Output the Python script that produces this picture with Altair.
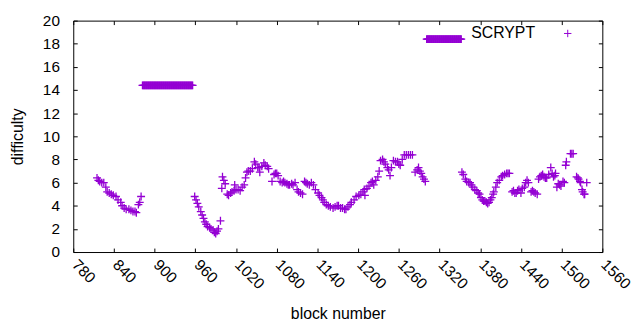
import altair as alt
import pandas as pd

# ---- data ----
series_name = "SCRYPT"

blocks = [
    815, 817, 819, 822, 825, 828, 830, 833, 836, 839, 843, 846, 850, 852, 855, 858,
    862, 865, 868, 871, 873, 876, 878, 880,
    959, 961, 963, 965, 968, 970, 972, 974, 976, 978, 981, 983, 986, 988, 990, 992,
    994, 997, 999, 1000, 1002, 1004, 1007, 1009, 1012, 1014, 1017, 1018, 1020, 1023,
    1026, 1029, 1032, 1034, 1036, 1038, 1041, 1044, 1047, 1049, 1052, 1054, 1055, 1058,
    1061, 1063, 1066, 1068, 1073, 1076, 1078, 1080, 1082, 1085, 1088, 1090, 1092, 1095,
    1097, 1099, 1102, 1104, 1107, 1110, 1112, 1115, 1118, 1121, 1123, 1125, 1128, 1131,
    1134, 1137, 1141, 1143, 1146, 1148, 1150, 1153, 1156, 1159, 1163, 1166, 1169, 1171,
    1174, 1177, 1180, 1182, 1185, 1188, 1190, 1194, 1197, 1201, 1204, 1207, 1209, 1210,
    1213, 1216, 1219, 1221, 1223, 1226, 1229, 1231, 1233, 1236, 1238, 1240, 1243, 1245,
    1247, 1249, 1252, 1255, 1258, 1260, 1262, 1265, 1268, 1271, 1274, 1277, 1280, 1284,
    1287, 1289, 1291, 1293, 1295, 1297, 1299,
    1353, 1355, 1358, 1360, 1363, 1365, 1367, 1369, 1372, 1375, 1377, 1379, 1381, 1383,
    1385, 1387, 1389, 1391, 1393, 1395, 1397, 1399, 1400, 1403, 1405, 1408, 1411, 1413,
    1416, 1419, 1421, 1423,
    1427, 1429, 1431, 1433, 1435, 1437, 1440, 1442, 1445, 1447, 1449, 1451, 1455, 1457,
    1459, 1461, 1464, 1466, 1468, 1470, 1472, 1474, 1476, 1478, 1481, 1484, 1486, 1488,
    1490, 1491, 1493, 1495, 1497, 1499, 1502, 1504, 1506, 1507, 1513, 1515, 1517, 1522,
    1524, 1525, 1527, 1528, 1530, 1531, 1533, 1534, 1537,
]
values = [
    6.4, 6.2, 6.1, 6.0, 6.0, 5.6, 5.2, 5.1, 5.0, 4.9, 4.8, 4.5, 4.3, 4.0, 3.8, 3.7,
    3.7, 3.6, 3.5, 3.5, 3.4, 4.1, 4.3, 4.8,
    4.8, 4.5, 4.2, 3.9, 3.5, 3.2, 2.9, 2.6, 2.4, 2.2, 2.1, 2.0, 1.9, 1.7, 1.6, 1.8,
    2.0, 2.7, 5.5, 6.5, 6.2, 5.9, 5.0, 4.9, 5.1, 5.2, 5.3, 5.8, 5.4, 5.4,
    5.3, 5.6, 5.8, 6.4, 6.9, 7.0, 7.0, 7.2, 7.8, 7.6, 7.3, 7.3, 6.9, 7.4,
    7.7, 7.5, 7.4, 7.2, 6.1, 6.7, 6.8, 6.8, 6.6, 6.1, 6.0, 6.1, 6.0, 5.9,
    5.8, 5.8, 5.9, 5.8, 6.0, 5.4, 5.2, 5.1, 5.0, 6.1, 6.0, 5.9, 5.8, 6.0,
    5.8, 5.4, 5.1, 4.9, 4.7, 4.5, 4.3, 4.1, 4.0, 3.9, 3.8, 3.9, 4.0, 4.0,
    3.8, 3.8, 3.7, 3.7, 3.9, 4.1, 4.3, 4.5, 4.8, 4.9, 5.0, 5.2, 5.4, 4.9,
    5.5, 5.7, 6.0, 6.1, 5.8, 6.2, 6.5, 7.0, 7.9, 8.0, 7.8, 7.6, 7.3, 7.1,
    6.6, 7.3, 7.9, 7.8, 7.8, 7.6, 7.5, 8.0, 8.4, 8.4, 8.4, 8.4, 8.4, 6.9,
    7.1, 7.3, 7.0, 6.8, 6.5, 6.3, 6.1,
    6.9, 6.7, 6.3, 6.1, 6.0, 6.0, 5.8, 5.6, 5.4, 5.3, 5.1, 5.0, 4.7, 4.5,
    4.4, 4.4, 4.3, 4.2, 4.3, 4.5, 4.7, 5.0, 5.2, 5.6, 6.0, 6.2, 6.5, 6.6,
    6.7, 6.8, 6.8, 6.8,
    5.2, 5.3, 5.1, 5.1, 5.3, 5.4, 5.1, 5.5, 5.6, 6.0, 6.2, 6.0, 5.2, 5.3,
    5.2, 5.1, 5.0, 6.3, 6.5, 6.6, 6.7, 6.5, 6.4, 6.4, 6.7, 7.3, 6.8, 6.5,
    6.6, 6.8, 5.6, 5.9, 5.8, 5.7, 6.1, 6.0, 7.5, 7.8, 8.5, 8.5, 8.5, 6.5,
    6.4, 6.3, 6.1, 6.0, 5.4, 5.2, 5.0, 5.0, 6.0,
]

# two runs of blocks that sit at one constant difficulty
plateau1_blocks = list(range(882, 957))
plateau1_value = 14.4
plateau2_blocks = list(range(1301, 1353))
plateau2_value = 18.4

x_ticks = list(range(780, 1561, 60))
y_ticks = list(range(0, 21, 2))

all_blocks = blocks + plateau1_blocks + plateau2_blocks
all_values = (values + [plateau1_value] * len(plateau1_blocks)
              + [plateau2_value] * len(plateau2_blocks))
df = pd.DataFrame({"block": all_blocks, "difficulty": all_values})
df["series"] = series_name

PLUS = "M-1,0L1,0M0,-1L0,1"
FONT = "Liberation Sans"
PURPLE = "#9400d3"
TICK = 4

xscale = alt.Scale(domain=[780, 1560], nice=False, zero=False)
yscale = alt.Scale(domain=[0, 20], nice=False, zero=False)

points = alt.Chart(df).mark_point(
    shape=PLUS, filled=False, size=64, strokeWidth=1.3, opacity=1
).encode(
    x=alt.X("block:Q", scale=xscale,
            axis=alt.Axis(orient="bottom", values=x_ticks, format="d",
                          title="block number",
                          offset=-TICK, tickSize=TICK, domain=False, grid=False,
                          labelAngle=45, labelPadding=5, labelOffset=6,
                          labelFontSize=15.5,
                          titleFontSize=16, titleFontWeight="normal",
                          titlePadding=14, labelFlush=False, labelOverlap=False)),
    y=alt.Y("difficulty:Q", scale=yscale,
            axis=alt.Axis(orient="left", values=y_ticks, format="d",
                          title="difficulty",
                          offset=-TICK, tickSize=TICK, domain=False, grid=False,
                          labelPadding=14, labelFontSize=15.5, titleFontSize=16,
                          titleFontWeight="normal", titlePadding=17,
                          labelFlush=False, labelOverlap=False)),
    color=alt.Color("series:N", scale=alt.Scale(range=[PURPLE]),
                    legend=alt.Legend(title=None, orient="none", legendX=492,
                                      legendY=5, padding=0, symbolType=PLUS,
                                      symbolSize=56, symbolStrokeWidth=1,
                                      symbolStrokeColor=PURPLE,
                                      symbolFillColor="transparent",
                                      symbolOffset=0,
                                      labelFont=FONT, labelFontSize=16,
                                      labelColor="black", labelAlign="right",
                                      labelOffset={"expr": "-41"})),
)

mirror = alt.Chart(df).mark_point(opacity=0).encode(
    x=alt.X("block:Q", scale=xscale,
            axis=alt.Axis(orient="top", values=x_ticks, title="", labels=False,
                          offset=-TICK, tickSize=TICK, domain=False, grid=False)),
    y=alt.Y("difficulty:Q", scale=yscale,
            axis=alt.Axis(orient="right", values=y_ticks, title="", labels=False,
                          offset=-TICK, tickSize=TICK, domain=False, grid=False)),
)

chart = alt.layer(points, mirror).resolve_axis(
    x="independent", y="independent"
).properties(
    width=535, height=234,
    autosize=alt.AutoSizeParams(type="none"),
    padding={"left": 66, "top": 11, "right": 30, "bottom": 69},
    background="white",
).configure_view(
    stroke="black", strokeWidth=1
).configure_axis(
    labelFont=FONT, titleFont=FONT, labelColor="black", titleColor="black",
    tickColor="black", tickWidth=1
)

chart.save("out.html", embed_options={"renderer": "svg", "actions": False})
